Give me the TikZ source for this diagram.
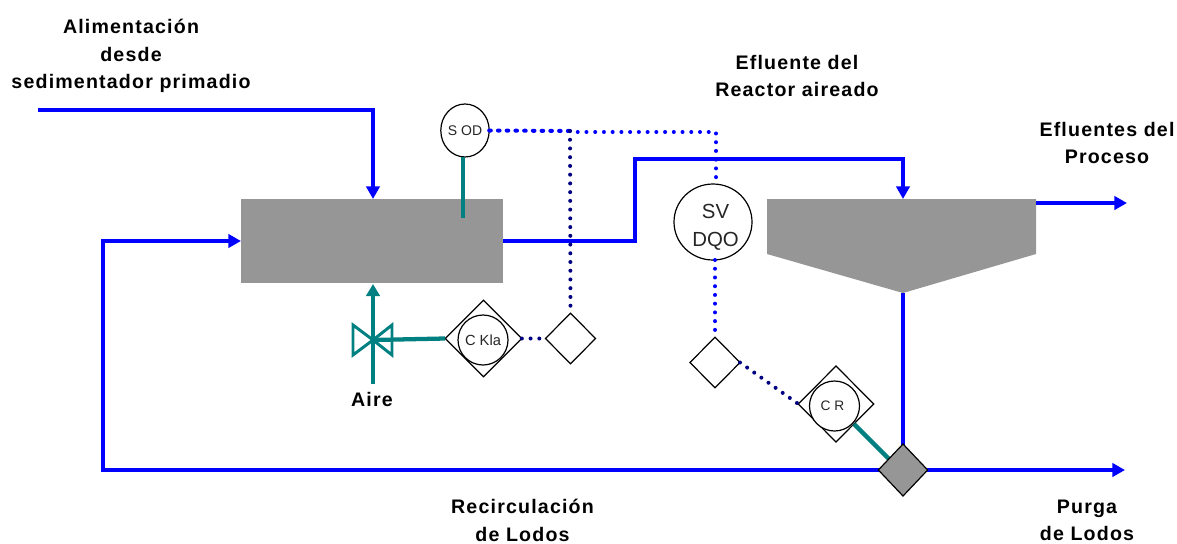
\documentclass[tikz,border=0pt]{standalone}
\usepackage{fontspec}
\setmainfont{Liberation Sans}
\newfontfamily\lblfont[LetterSpace=6]{Liberation Sans}
\usetikzlibrary{arrows.meta,shapes.geometric}
\definecolor{flowblue}{RGB}{0,0,255}
\definecolor{ctrlteal}{RGB}{0,128,128}
\definecolor{sensnavy}{RGB}{0,0,128}
\definecolor{tankgray}{RGB}{150,150,150}
\tikzset{
  x=0.75pt,y=-0.75pt,
  flow/.style={draw=flowblue,line width=3.3pt,line join=miter},
  flowarrow/.style={flow,-{Triangle[length=9.5pt,width=10pt]}},
  ctrl/.style={draw=ctrlteal,line width=3.2pt},
  ctrlarrow/.style={ctrl,-{Triangle[length=9pt,width=10pt]}},
  sensblue/.style={draw=flowblue,line width=3pt,line cap=round,dash pattern=on 0pt off 6.55pt},
  sensdark/.style={draw=sensnavy,line width=3pt,line cap=round,dash pattern=on 0pt off 6.55pt},
  tank/.style={fill=tankgray,draw=none,inner sep=0pt,outer sep=0pt},
  sensor/.style={ellipse,draw=black,fill=white,line width=0.9pt,inner sep=0pt,outer sep=0pt,align=center,text=black!85},
  ctrlbox/.style={diamond,draw=black,fill=white,line width=0.9pt,inner sep=0pt,outer sep=0pt,aspect=1},
  lbl/.style={font=\fontsize{14.7pt}{20.6pt}\lblfont\bfseries,align=center,inner sep=0pt,text=black},
  bigtext/.style={font=\fontsize{15.3pt}{21pt}\selectfont,align=center,inner sep=0pt,text=black!85},
  valvepart/.style={draw=ctrlteal,line width=2.2pt,fill=none,line join=miter},
}
\begin{document}
\begin{tikzpicture}
\useasboundingbox (0,0) rectangle (1177,543);

% tanks
\node[tank,minimum width=196.5pt,minimum height=63pt] (reactor) at (372,241) {};
\fill[tankgray] (767,199) -- (1036,199) -- (1036,254) -- (903,293) coordinate (clTip) -- (767,254) -- cycle;

% named waypoints
\coordinate (feedStart) at (38,110);
\coordinate (feedBend) at (373,110);
\coordinate (feedEnd) at (373,199);
\coordinate (recBend1) at (103,470);
\coordinate (recBend2) at (103,241);
\coordinate (reactIn) at (241,241);
\coordinate (reactOut) at (503,241);
\coordinate (b1) at (635,241);
\coordinate (b2) at (635,159);
\coordinate (b3) at (903,159);
\coordinate (clarIn) at (903,199);
\coordinate (clarOut) at (1036,203);
\coordinate (outEnd) at (1127,203);
\coordinate (purgeEnd) at (1125,470);
\coordinate (sodTop) at (463,157);
\coordinate (sodDrop) at (463,218);
\coordinate (airStart) at (373,384);
\coordinate (airEnd) at (373,284);
\coordinate (valveC) at (373,340);
\coordinate (junction) at (570,131);
\coordinate (dotBend1) at (716,132);
\coordinate (dotBend2) at (716,184);
\coordinate (crEnd) at (890,460);
\coordinate (crStart) at (854,424);

% control elements
\node[sensor,font=\fontsize{10.5pt}{12pt}\selectfont,minimum width=34.5pt,minimum height=39.75pt] (sod) at (465,130.5) {S OD};
\node[sensor,minimum width=58.5pt,minimum height=57pt] (sv) at (713,222) {};
\node[bigtext] (svtext) at (715.5,227) {SV\\DQO};
\node[ctrlbox,minimum width=57.5pt,minimum height=57.5pt] (kla) at (483.5,338.5) {};
\node[sensor,circle,font=\fontsize{11pt}{12pt}\selectfont,minimum size=37.5pt] (klac) at (483,340) {C Kla};
\node[ctrlbox,minimum width=37.5pt,minimum height=38pt] (d1) at (570.5,338.5) {};
\node[ctrlbox,minimum width=37.5pt,minimum height=38pt] (d2) at (715,362.5) {};
\node[ctrlbox,minimum width=56.5pt,minimum height=57pt] (cr) at (836,404) {};
\node[sensor,circle,font=\fontsize{10.3pt}{12pt}\selectfont,minimum size=37.5pt] (crc) at (834.5,406) {C R\hspace*{3pt}};

% main flows
\draw[flowarrow] (feedStart) -- (feedBend) -- (feedEnd);
\draw[flowarrow] (reactOut) -- (b1) -- (b2) -- (b3) -- (clarIn);
\draw[flowarrow] (clarOut) -- (outEnd);
\draw[flow] (clTip) -- (903,446);
\draw[flowarrow] (880,470) -- (recBend1) -- (recBend2) -- (reactIn);
\draw[flowarrow] (926,470) -- (purgeEnd);

% signal lines
\draw[sensblue,dash pattern=on 1.2pt off 5.35pt] (sod.east) -- (junction);
\draw[sensblue] (junction) -- ++(0,1) -- (dotBend1) -- (dotBend2);
\draw[sensdark] (junction) -- (d1.north);
\draw[sensblue] (sv.south) ++(2,0) -- (d2.north);
\draw[sensdark] (kla.east) -- (d1.west);
\draw[sensdark] (d2.east) -- (cr.west);

% teal control lines
\draw[ctrl] (sodTop) -- (sodDrop);
\draw[ctrlarrow] (airStart) -- (airEnd);
\draw[ctrl] (kla.west) -- (valveC);
\draw[valvepart] (valveC) -- (353,325) -- (353,355) -- cycle;
\draw[valvepart] (valveC) -- (392,325) -- (392,355) -- cycle;
\draw[ctrl] (crStart) -- (crEnd);

% gray valve
\node[ctrlbox,fill=tankgray,minimum width=37pt,minimum height=39pt] (grayv) at (903,470) {};

% labels
\node[lbl] (l1) at (131,56) {Alimentación\\desde\\sedimentador primadio};
\node[lbl] (l2) at (797,76) {Efluente del\\Reactor aireado};
\node[lbl] (l3) at (1107,143) {Efluentes del\\Proceso};
\node[lbl] (l4) at (372,399) {Aire};
\node[lbl] (l5) at (522.5,520.5) {Recirculación\\de Lodos};
\node[lbl] (l6) at (1087,520.5) {Purga\\de Lodos};
\end{tikzpicture}
\end{document}
